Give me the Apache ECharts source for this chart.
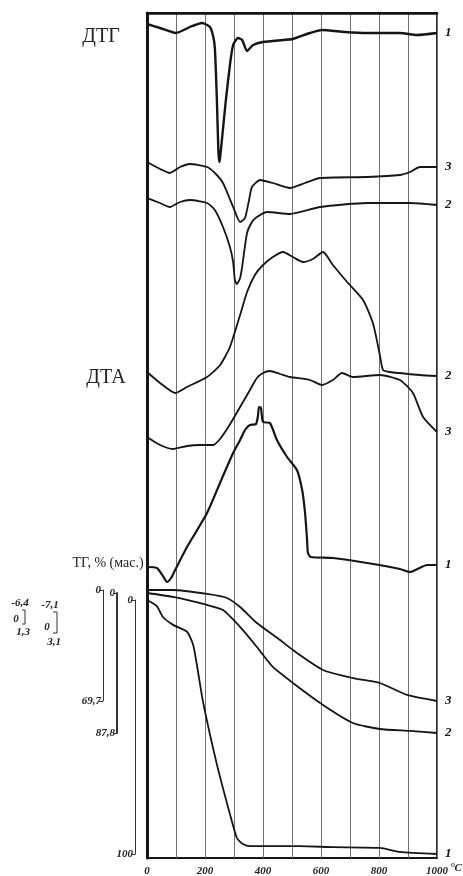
<!DOCTYPE html>
<html><head><meta charset="utf-8">
<script src="https://cdn.jsdelivr.net/npm/echarts@6/dist/echarts.min.js"></script>
<style>html,body{margin:0;padding:0;background:#fff}#c{width:463px;height:876px}</style>
</head><body><div id="c"></div><script>
// ---------------- DATA (temperature, °C; signal in relative units; TG in % mass loss) -------------
const xTicks = [0, 200, 400, 600, 800, 1000];

// ДТГ curves (signal: deflection, positive = up)
const dtg1T = [0,45,100,148,190,217,228,234,241,246,249,252,262,272,286,297,314,328,345,366,400,469,503,562,603,683,759,872,931,1000];
const dtg1V = [0,-4,-9,-3,1,-3,-12,-24,-76,-126,-138,-134,-105,-76,-41,-21,-14,-16,-27,-21,-18,-16,-15,-9,-6,-8,-9,-9,-11,-9];
const dtg3T = [0,45,79,114,148,207,234,262,297,321,338,352,362,390,434,493,545,597,759,872,907,941,1000];
const dtg3V = [0,-7,-11,-5,-2,-5,-11,-21,-45,-60,-56,-38,-25,-18,-21,-26,-21,-16,-15,-13,-10,-5,-5];
const dtg2T = [0,45,79,114,148,207,234,262,286,297,303,310,321,328,345,362,379,414,493,597,759,907,1000];
const dtg2V = [0,-5,-9,-4,-2,-5,-12,-29,-49,-64,-82,-86,-80,-69,-35,-24,-19,-14,-16,-9,-5,-5,-7];

// ДТА curves
const dta2T = [0,45,97,138,207,252,286,321,345,372,400,434,469,503,538,572,607,641,690,745,779,803,814,838,941,1000];
const dta2V = [0,-11,-21,-15,-5,7,25,57,80,97,107,115,120,115,110,113,120,107,90,72,49,17,2,0,-3,-4];
const dta3T = [0,45,90,138,183,228,252,276,297,355,379,400,424,459,493,562,603,641,672,710,803,872,917,952,1000];
const dta3V = [0,-8,-12,-9,-8,-8,-2,8,18,47,59,64,66,63,60,57,52,57,64,60,62,57,44,20,5];
const dta1T = [0,34,55,69,83,97,138,207,259,297,321,338,355,376,383,386,393,400,424,448,483,517,535,545,552,555,565,641,759,872,907,966,1000];
const dta1V = [0,-1,-9,-15,-11,-3,20,54,89,114,127,137,142,143,152,160,159,145,144,127,110,97,77,54,27,14,10,9,4,-2,-5,2,2];

// ТГ curves, % mass loss
const tg1T = [0,34,55,90,138,159,172,193,241,286,310,331,355,528,641,803,872,1000];
const tg1V = [0,2.4,6.7,9.8,12.5,17.6,25.5,40,64.7,84.3,93.7,96.1,96.9,96.9,97.3,97.6,99.2,100];
const tg2T = [0,90,207,262,321,379,434,503,607,710,803,907,1000];
const tg2V = [0,2.5,7.5,10.7,21.3,33.9,46.4,56.4,70.2,81.5,85.3,86.5,87.8];
const tg3T = [0,90,207,276,321,379,459,503,607,710,803,897,1000];
const tg3V = [0,0,2.5,5.0,10.7,20.7,31.4,37.7,50.2,55.3,58.4,65.9,69.7];
const tgMax = {tg1: 100, tg2: 87.8, tg3: 69.7};

// ---------------- LAYOUT ----------------
const F = {left:147, top:13, width:290, height:845};
const base = {dtg1:11, dtg3:149, dtg2:185, dta2:359, dta3:424, dta1:554}; // trace zero levels (px from frame top)
const tgBox = {tg3:{top:590,height:111,line:103}, tg2:{top:593,height:140,line:117}, tg1:{top:600,height:254,line:135}};

const serif = '"Liberation Serif","DejaVu Serif",serif';
const ink = '#151515';

const chart = echarts.init(document.getElementById('c'), null, {renderer:'canvas'});

const grids = [
  {left:F.left, top:F.top, width:F.width, height:F.height, show:true, borderColor:ink, borderWidth:1.8, containLabel:false, outerBoundsMode:'none'}
];
const xAxes = [{
  gridIndex:0, type:'value', min:0, max:1000, interval:100,
  axisLine:{show:true, lineStyle:{color:ink, width:2.5}},
  axisTick:{show:false},
  splitLine:{show:true, lineStyle:{color:'#707070', width:1}},
  axisLabel:{margin:8, color:'#222', fontFamily:serif, fontStyle:'italic', fontWeight:'bold', fontSize:11,
    formatter:v => (xTicks.indexOf(v) >= 0 ? String(v) : '')}
}];
const yAxes = [{
  gridIndex:0, type:'value', min:0, max:F.height, inverse:true,
  axisLine:{show:true, onZero:false, lineStyle:{color:ink, width:3}}, axisTick:{show:false}, axisLabel:{show:false}, splitLine:{show:false}
}];

['tg3','tg2','tg1'].forEach((k, i) => {
  const b = tgBox[k];
  grids.push({left:F.left, top:b.top, width:F.width, height:b.height, show:false, containLabel:false, outerBoundsMode:'none'});
  xAxes.push({gridIndex:i+1, type:'value', min:0, max:1000, show:false});
  yAxes.push({
    gridIndex:i+1, type:'value', min:0, max:tgMax[k], interval:tgMax[k], inverse:true, position:'left',
    offset: F.left - b.line,
    axisLine:{show:true, onZero:false, lineStyle:{color:'#333', width: k==='tg2' ? 2 : 1}},
    axisTick:{show:true, length:4, lineStyle:{color:'#333'}},
    splitLine:{show:false},
    axisLabel:{show:true, margin:2, color:'#222', fontFamily:serif, fontStyle:'italic', fontWeight:'bold', fontSize:11,
      formatter:v => String(v).replace('.', ',')}
  });
});

function endLbl(t){
  return {show:true, formatter:t, color:ink, fontFamily:serif, fontStyle:'italic', fontWeight:'bold', fontSize:13, distance:8};
}
function trace(T, V, b, lbl, w){
  return {type:'line', xAxisIndex:0, yAxisIndex:0, showSymbol:false, smooth:0.2, animation:false, silent:true,
    lineStyle:{color:ink, width:w}, endLabel:endLbl(lbl),
    data:T.map((t,i)=>[t, b - V[i]])};
}
function tg(T, V, idx, lbl, w){
  return {type:'line', xAxisIndex:idx, yAxisIndex:idx, showSymbol:false, smooth:0.2, animation:false, silent:true,
    lineStyle:{color:ink, width:w}, endLabel:endLbl(lbl),
    data:T.map((t,i)=>[t, V[i]])};
}

const series = [
  trace(dtg1T, dtg1V, base.dtg1, '1', 2.4),
  trace(dtg3T, dtg3V, base.dtg3, '3', 1.8),
  trace(dtg2T, dtg2V, base.dtg2, '2', 1.8),
  trace(dta2T, dta2V, base.dta2, '2', 1.8),
  trace(dta3T, dta3V, base.dta3, '3', 1.8),
  trace(dta1T, dta1V, base.dta1, '1', 2.2),
  tg(tg3T, tg3V, 1, '3', 1.8),
  tg(tg2T, tg2V, 2, '2', 1.8),
  tg(tg1T, tg1V, 3, '1', 1.8)
];

function txt(x, y, s, size, opts){
  opts = opts || {};
  return {type:'text', x:x, y:y, silent:true, style:Object.assign({
    text:s, fontSize:size, fontFamily:serif, fill:'#222',
    align:'center', verticalAlign:'middle', textAlign:'center', textVerticalAlign:'middle'}, opts)};
}
const it = {fontStyle:'italic', fontWeight:'bold'};
const graphic = [
  txt(101, 37, 'ДТГ', 20),
  txt(106, 378, 'ДТА', 20),
  txt(108, 563, 'ТГ, % (мас.)', 14),
  txt(456, 868, '°C', 11, it),
  txt(20, 603, '-6,4', 11, it),
  txt(16, 619, '0', 11, it),
  txt(23, 632, '1,3', 11, it),
  txt(50, 605, '-7,1', 11, it),
  txt(47, 627, '0', 11, it),
  txt(54, 642, '3,1', 11, it),
  {type:'polyline', silent:true, shape:{points:[[22,610],[25,610],[25,624],[22,624]]}, style:{stroke:'#333', lineWidth:1, fill:null}},
  {type:'polyline', silent:true, shape:{points:[[53,612],[57,612],[57,633],[53,633]]}, style:{stroke:'#333', lineWidth:1, fill:null}}
];

chart.setOption({
  animation:false,
  backgroundColor:'#fff',
  grid:grids, xAxis:xAxes, yAxis:yAxes, series:series, graphic:graphic
});
</script></body></html>
